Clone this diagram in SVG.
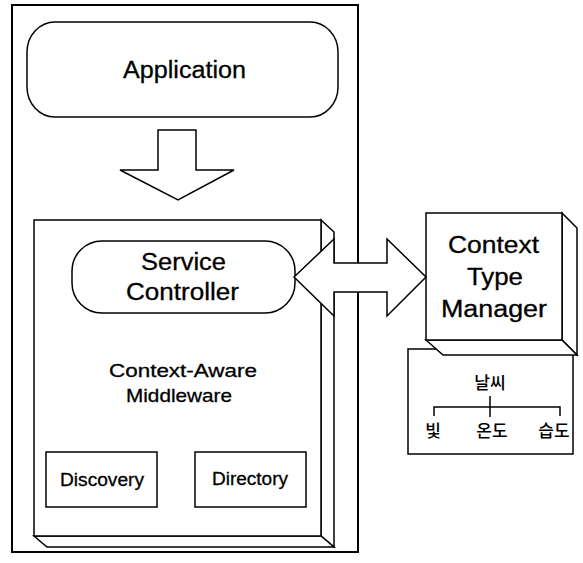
<svg xmlns="http://www.w3.org/2000/svg" width="583" height="563" viewBox="0 0 583 563">
<style>
.s{fill:#fff;stroke:#000;stroke-width:1.5;stroke-linejoin:miter}
.t{font-family:"Liberation Sans",Arial,sans-serif;fill:#000;stroke:#000;stroke-width:0.3;text-anchor:start}
.k{font-family:"Noto Sans CJK KR","Noto Sans",sans-serif;font-size:17px;font-weight:500;fill:#000;text-anchor:middle}
.l{fill:none;stroke:#000;stroke-width:1.5}
</style>
<rect width="583" height="563" fill="#fff"/>
<g id="outer">
<rect x="12" y="5" width="346" height="547" fill="none" stroke="#000" stroke-width="2"/>
</g>
<g id="application">
<rect class="s" x="27" y="22" width="311" height="95" rx="28" ry="30"/>
<text class="t" x="123" y="78" font-size="23" textLength="123" lengthAdjust="spacingAndGlyphs">Application</text>
</g>
<g id="middleware">
<polygon class="s" points="321,220 334,232 334,547 321,536"/>
<polygon class="s" points="34,536 47,547 334,547 321,536"/>
<rect class="s" x="34" y="220" width="287" height="316"/>
<text class="t" x="109" y="377" font-size="19" textLength="148" lengthAdjust="spacingAndGlyphs">Context-Aware</text>
<text class="t" x="126" y="402" font-size="19" textLength="106" lengthAdjust="spacingAndGlyphs">Middleware</text>
</g>
<g id="service-controller">
<rect class="s" x="72" y="241" width="223" height="72" rx="30" ry="30"/>
<text class="t" x="141" y="270" font-size="23" textLength="85" lengthAdjust="spacingAndGlyphs">Service</text>
<text class="t" x="126" y="300" font-size="23" textLength="113" lengthAdjust="spacingAndGlyphs">Controller</text>
</g>
<g id="discovery">
<rect class="s" x="46" y="452" width="111" height="55"/>
<text class="t" x="60" y="486" font-size="18" textLength="84" lengthAdjust="spacingAndGlyphs">Discovery</text>
</g>
<g id="directory">
<rect class="s" x="195" y="452" width="111" height="55"/>
<text class="t" x="212" y="485" font-size="18" textLength="76" lengthAdjust="spacingAndGlyphs">Directory</text>
</g>
<g id="context-tree">
<rect class="s" x="408" y="349" width="165" height="105"/>
<text class="k" x="490" y="389">날씨</text>
<path class="l" d="M490,396 V417 M434,416 V407 H560 V416"/>
<text class="k" x="433" y="437">빛</text>
<text class="k" x="492" y="437">온도</text>
<text class="k" x="554" y="437">습도</text>
</g>
<g id="context-type-manager">
<polygon class="s" points="562,213 577,228 577,355 562,340"/>
<polygon class="s" points="426,340 443,355 577,355 562,340"/>
<rect class="s" x="426" y="213" width="136" height="127"/>
<text class="t" x="448" y="253" font-size="23" textLength="91" lengthAdjust="spacingAndGlyphs">Context</text>
<text class="t" x="467" y="285" font-size="23" textLength="56" lengthAdjust="spacingAndGlyphs">Type</text>
<text class="t" x="441" y="317" font-size="23" textLength="106" lengthAdjust="spacingAndGlyphs">Manager</text>
</g>
<g id="connectors">
<path class="s" d="M158,130 H196 V170 H234 L178,200 L120,170 H158 Z"/>
<path class="s" d="M294,277 L334,239 V263 H387 V239 L426,277 L387,316 V292 H334 V316 Z"/>
</g>
</svg>
